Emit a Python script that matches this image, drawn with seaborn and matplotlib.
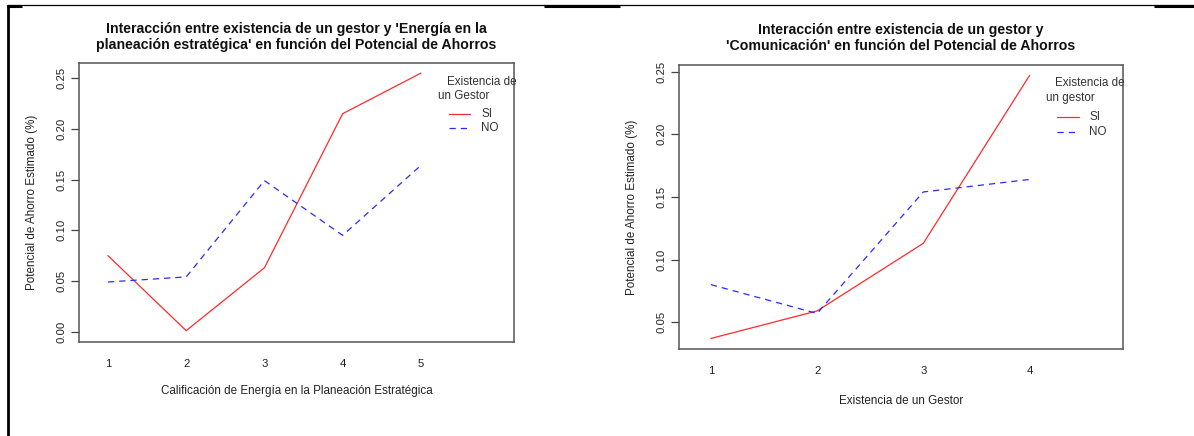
import numpy as np
import pandas as pd
import seaborn as sns
import matplotlib
matplotlib.use("Agg")
import matplotlib.pyplot as plt
from matplotlib.lines import Line2D

# ---------------- data ----------------
levels_left = [1, 2, 3, 4, 5]
si_left = [0.075, 0.001, 0.063, 0.215, 0.255]
no_left = [0.049, 0.054, 0.149, 0.095, 0.164]

levels_right = [1, 2, 3, 4]
si_right = [0.037, 0.059, 0.113, 0.247]
no_right = [0.080, 0.057, 0.154, 0.164]

groups = ["SI", "NO"]
yticks_left = [0.00, 0.05, 0.10, 0.15, 0.20, 0.25]
yticks_right = [0.05, 0.10, 0.15, 0.20, 0.25]

title_left = "Interacción entre existencia de un gestor y 'Energía en la\nplaneación estratégica' en función del Potencial de Ahorros"
title_right = "Interacción entre existencia de un gestor y\n'Comunicación' en función del Potencial de Ahorros"
xlabel_left = "Calificación de Energía en la Planeación Estratégica"
xlabel_right = "Existencia de un Gestor"
ylabel = "Potencial de Ahorro Estimado (%)"
legtitle_left = ["Existencia de", "un Gestor"]
legtitle_right = ["Existencia de", "un gestor"]

sns.set_theme(style="white")
plt.rcParams["font.family"] = ["Liberation Sans", "DejaVu Sans"]

W, H = 1194, 436
fig = plt.figure(figsize=(W / 100, H / 100), dpi=100)
fig.patch.set_facecolor("white")

palette = {"SI": "#ff2a2a", "NO": "#2a2aff"}
dashes = {"SI": "", "NO": (5, 4)}
txtc = "#222222"


def make_df(levels, si, no):
    return pd.DataFrame({
        "x": list(levels) * 2,
        "y": list(si) + list(no),
        "g": ["SI"] * len(levels) + ["NO"] * len(levels),
    })


def px_rect(x0, y0, x1, y1):
    return [x0 / W, 1 - y1 / H, (x1 - x0) / W, (y1 - y0) / H]


def panel(rect, df, levels, yticks, xlim, ylim, title, xlabel, title_pad,
          xlab_pad, xtick_pad, legpos, legtitle):
    ax = fig.add_axes(rect)
    sns.lineplot(data=df, x="x", y="y", hue="g", style="g", hue_order=groups,
                 style_order=groups, palette=palette, dashes=dashes,
                 linewidth=0.9, legend=False, ax=ax, sort=False)
    ax.set_xlim(*xlim)
    ax.set_ylim(*ylim)
    ax.set_xticks(levels)
    ax.set_xticklabels([str(v) for v in levels], fontsize=8.2, color=txtc)
    ax.set_yticks(yticks)
    ax.set_yticklabels([f"{v:.2f}" for v in yticks], fontsize=8.2,
                       color=txtc, rotation=90, va="center")
    ax.tick_params(axis="x", length=0, pad=xtick_pad)
    ax.tick_params(axis="y", length=6, width=0.9, color="#444444", pad=3,
                   left=True)
    for s in ax.spines.values():
        s.set_color("#555555")
        s.set_linewidth(1.1)
    ax.set_xlabel(xlabel, fontsize=8.4, color=txtc, labelpad=xlab_pad)
    ax.set_ylabel(ylabel, fontsize=8.4, color=txtc, labelpad=13)
    ax.set_title(title, fontsize=10.2, fontweight="bold", color="#111111",
                 pad=title_pad, linespacing=1.15)
    # legend (R style, no box)
    (t1x, t1y), (t2x, t2y), (lx0, lx1, ly1, ly2, tx) = legpos
    fig.text(t1x / W, 1 - t1y / H, legtitle[0], fontsize=8.4, color="#333333",
             va="center", ha="left")
    fig.text(t2x / W, 1 - t2y / H, legtitle[1], fontsize=8.4, color="#333333",
             va="center", ha="left")
    for g, ly in zip(groups, [ly1, ly2]):
        ln = Line2D([lx0 / W, lx1 / W], [1 - ly / H, 1 - ly / H],
                    transform=fig.transFigure, color=palette[g],
                    linewidth=0.9,
                    linestyle="-" if g == "SI" else (0, (5, 4)))
        fig.add_artist(ln)
        fig.text(tx / W, 1 - ly / H, g, fontsize=8.4, color="#333333",
                 va="center", ha="left")
    return ax


panel(px_rect(79, 63, 514, 342), make_df(levels_left, si_left, no_left),
      levels_left, yticks_left, (0.63, 6.19), (-0.0102, 0.265),
      title_left, xlabel_left, title_pad=10, xlab_pad=12, xtick_pad=12,
      legpos=((447, 82), (438, 96), (449, 470, 114, 128, 481)),
      legtitle=legtitle_left)

panel(px_rect(679, 65, 1123, 349), make_df(levels_right, si_right, no_right),
      levels_right, yticks_right, (0.70, 4.88), (0.0286, 0.2554),
      title_right, xlabel_right, title_pad=11, xlab_pad=14, xtick_pad=12,
      legpos=((1055, 83), (1046, 98), (1057, 1079, 117, 132, 1089)),
      legtitle=legtitle_right)

# document table borders
def hline(x0, x1, y, lw):
    fig.add_artist(Line2D([x0 / W, x1 / W], [1 - y / H, 1 - y / H],
                          transform=fig.transFigure, color="black",
                          linewidth=lw, solid_capstyle="butt"))

hline(7, 1194, 5.3, 0.9)
hline(7, 22, 5.8, 2.2)
hline(544, 620, 5.8, 2.2)
hline(1154, 1194, 5.8, 2.2)
fig.add_artist(Line2D([8 / W, 8 / W], [0, 1 - 5 / H], transform=fig.transFigure,
                      color="black", linewidth=2.0, solid_capstyle="butt"))

fig.savefig("out.png", dpi=100, facecolor="white")
